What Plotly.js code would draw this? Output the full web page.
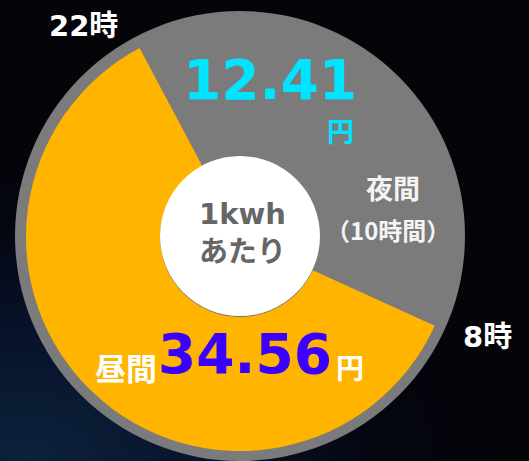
<!DOCTYPE html>
<html>
<head>
<meta charset="utf-8">
<script src="https://cdn.plot.ly/plotly-3.0.1.min.js"></script>
<style>
html,body{margin:0;padding:0;width:529px;height:461px;overflow:hidden;}
body{background:radial-gradient(ellipse 90% 70% at 5% 100%, #0d223c 0%, #07122a 40%, #04060f 75%, #040409 100%);}
#chart{width:529px;height:461px;}
</style>
</head>
<body>
<div id="chart"></div>
<script>
// Data
var periods = ["夜間", "昼間"];
var hours = [9.5, 14.5];          // share of the day as drawn (22時〜8時 / 8時〜22時)
var prices = ["12.41", "34.56"];  // 円 per kWh
var timeLabels = ["22時", "8時"];
var sliceColors = ["#7b7b7b", "#ffb400"];

var W = 529, H = 461;
function px(x){ return x / W; }
function py(y){ return 1 - y / H; }

var ring = {
  type: "pie", values: [1], labels: ["ring"], sort: false,
  marker: {colors: ["#7b7b7b"], line: {width: 0}},
  textinfo: "none", hoverinfo: "skip", showlegend: false,
  domain: {x: [px(15), px(465)], y: [py(461), py(11)]}
};

var pie = {
  type: "pie", values: hours, labels: periods, sort: false,
  direction: "clockwise", rotation: -28, hole: 0.374,
  marker: {colors: sliceColors, line: {width: 0}},
  textinfo: "none", hoverinfo: "skip", showlegend: false,
  domain: {x: [px(26), px(454)], y: [py(451), py(23)]}
};

var center = {
  type: "pie", values: [1], labels: ["center"], sort: false,
  marker: {colors: ["#ffffff"], line: {width: 0}},
  textinfo: "none", hoverinfo: "skip", showlegend: false,
  domain: {x: [px(160), px(320)], y: [py(316), py(156)]}
};

var F = "DejaVu Sans, Noto Sans CJK JP, sans-serif";
var FJ = "Noto Sans CJK JP, sans-serif";
function ann(text, x, y, size, color, family, xa){
  return {text: text, x: px(x), y: py(y), xref: "paper", yref: "paper",
    xanchor: xa || "center", yanchor: "middle", showarrow: false,
    font: {size: size, color: color, family: family || F, weight: "bold"}};
}

var annotations = [
  ann(timeLabels[0], 83, 26, 29, "#ffffff"),
  ann(timeLabels[1], 487, 337, 29, "#ffffff"),
  ann(prices[0], 270, 80, 55, "#00e5ff"),
  ann("円", 340, 130, 27, "#00e5ff", FJ),
  ann(periods[0], 393, 187, 27, "#f4f4f4", FJ),
  ann("（10時間）", 388, 229, 24, "#f4f4f4", FJ),
  ann("1kwh<br>あたり", 242, 233, 29, "#666666"),
  ann(periods[1], 126, 366, 31, "#ffffff", FJ),
  ann(prices[1], 245, 354, 55, "#3a00ff"),
  ann("円", 350, 367, 28, "#ffffff", FJ)
];

var layout = {
  width: W, height: H,
  margin: {l: 0, r: 0, t: 0, b: 0},
  paper_bgcolor: "rgba(0,0,0,0)",
  plot_bgcolor: "rgba(0,0,0,0)",
  showlegend: false,
  annotations: annotations
};

Plotly.newPlot("chart", [ring, pie, center], layout, {displayModeBar: false, staticPlot: true});
</script>
</body>
</html>
